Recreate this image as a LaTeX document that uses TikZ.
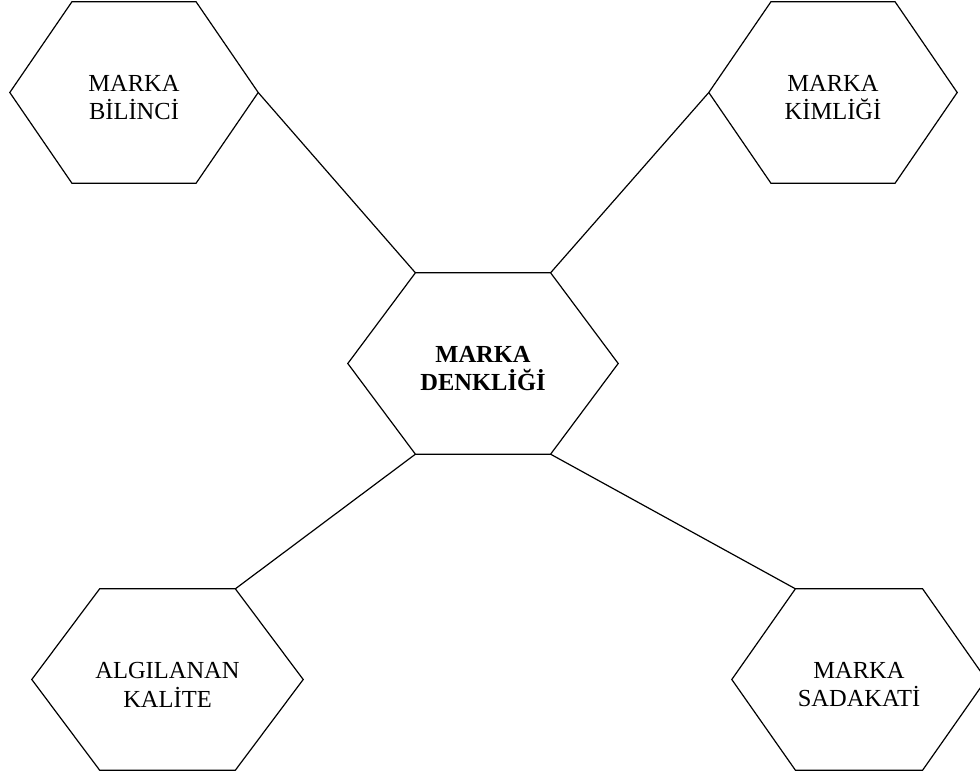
\documentclass[tikz,border=0pt]{standalone}
\usepackage{fontspec}
\setmainfont{Liberation Serif}
\usetikzlibrary{calc}

\tikzset{
  hexbox/.style={minimum width=248pt, minimum height=181pt, inner sep=0pt, align=center,
    font=\fontsize{24.5}{28.5}\selectfont, execute at begin node={\rule{0pt}{55pt}}},
  hexline/.style={line width=1.2pt, line join=miter},
}

\begin{document}
\begin{tikzpicture}[x=1pt,y=-1pt]
        \useasboundingbox (0,0) rectangle (980,778);
        \node[hexbox] (bilinc) at (134,92.5) {MARKA\\BİLİNCİ};
        \node[hexbox] (kimlik) at (833,92.5) {MARKA\\KİMLİĞİ};
        \node[hexbox, minimum width=270pt, font=\fontsize{24.5}{28.5}\selectfont\bfseries] (denklik) at (483,363.5) {MARKA\\DENKLİĞİ};
        \node[hexbox, minimum width=271pt] (kalite) at (167.5,679.5) {ALGILANAN\\KALİTE};
        \node[hexbox, minimum width=254pt] (sadakat) at (859,679.5) {MARKA\\SADAKATİ};
        % hexagon outlines
        \foreach \n in {bilinc,kimlik,denklik,kalite,sadakat}
            \draw[hexline] (\n.west)
                -- ($(\n.north west)!.25!(\n.north east)$) coordinate (\n-tl)
                -- ($(\n.north west)!.75!(\n.north east)$) coordinate (\n-tr)
                -- (\n.east)
                -- ($(\n.south west)!.75!(\n.south east)$) coordinate (\n-br)
                -- ($(\n.south west)!.25!(\n.south east)$) coordinate (\n-bl)
                -- cycle;
        % connectors
        \draw[hexline] (bilinc.east) -- (denklik-tl);
        \draw[hexline] (kimlik.west) -- (denklik-tr);
        \draw[hexline] (denklik-bl) -- (kalite-tr);
        \draw[hexline] (denklik-br) -- (sadakat-tl);
    \end{tikzpicture}
\end{document}
